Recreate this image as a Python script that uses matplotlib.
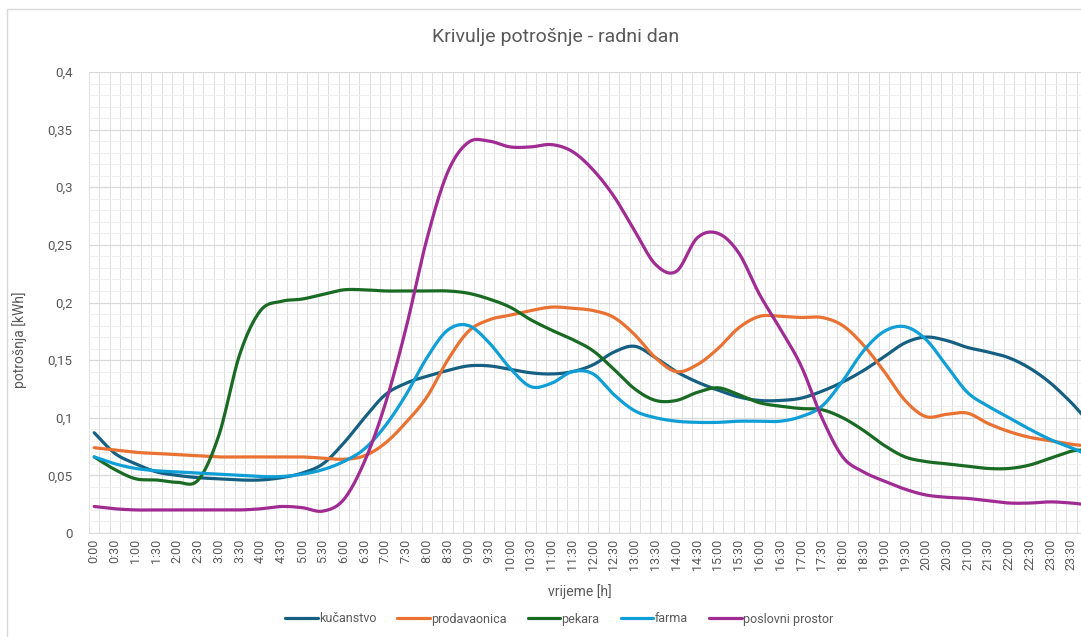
import matplotlib.pyplot as plt
import numpy as np
from matplotlib.patches import Rectangle
from matplotlib.ticker import FixedLocator, MultipleLocator, FuncFormatter

plt.rcParams["font.family"] = ["Roboto", "DejaVu Sans"]

# sample times (half-hourly readings plus the last quarter hour)
TIMES = [
    "0:00", "0:30", "1:00", "1:30", "2:00", "2:30", "3:00", "3:30",
    "4:00", "4:30", "5:00", "5:30", "6:00", "6:30", "7:00", "7:30",
    "8:00", "8:30", "9:00", "9:30", "10:00", "10:30", "11:00", "11:30",
    "12:00", "12:30", "13:00", "13:30", "14:00", "14:30", "15:00", "15:30",
    "16:00", "16:30", "17:00", "17:30", "18:00", "18:30", "19:00", "19:30",
    "20:00", "20:30", "21:00", "21:30", "22:00", "22:30", "23:00", "23:30",
    "23:45",
]
TICK_LABELS = TIMES[:-1]

kucanstvo = [
    0.087, 0.069, 0.060, 0.053, 0.050, 0.048, 0.047, 0.046,
    0.046, 0.048, 0.052, 0.060, 0.078, 0.100, 0.120, 0.130,
    0.136, 0.141, 0.145, 0.145, 0.142, 0.139, 0.138, 0.140,
    0.146, 0.157, 0.162, 0.152, 0.140, 0.131, 0.124, 0.118,
    0.115, 0.115, 0.117, 0.123, 0.131, 0.141, 0.153, 0.165,
    0.170, 0.167, 0.161, 0.157, 0.152, 0.143, 0.130, 0.113,
    0.103,
]
prodavaonica = [
    0.074, 0.072, 0.070, 0.069, 0.068, 0.067, 0.066, 0.066,
    0.066, 0.066, 0.066, 0.065, 0.064, 0.067, 0.078, 0.096,
    0.118, 0.150, 0.175, 0.185, 0.189, 0.193, 0.196, 0.195,
    0.193, 0.187, 0.172, 0.152, 0.140, 0.146, 0.160, 0.178,
    0.188, 0.188, 0.187, 0.187, 0.180, 0.163, 0.140, 0.115,
    0.101, 0.103, 0.104, 0.095, 0.088, 0.083, 0.080, 0.077,
    0.076,
]
pekara = [
    0.066, 0.055, 0.047, 0.046, 0.044, 0.046, 0.085, 0.155,
    0.193, 0.201, 0.203, 0.207, 0.211, 0.211, 0.210, 0.210,
    0.210, 0.210, 0.208, 0.203, 0.196, 0.185, 0.176, 0.168,
    0.158, 0.142, 0.125, 0.115, 0.115, 0.122, 0.126, 0.120,
    0.113, 0.110, 0.108, 0.107, 0.100, 0.089, 0.076, 0.066,
    0.062, 0.060, 0.058, 0.056, 0.056, 0.059, 0.065, 0.071,
    0.072,
]
farma = [
    0.066, 0.060, 0.056, 0.054, 0.053, 0.052, 0.051, 0.050,
    0.049, 0.049, 0.051, 0.055, 0.062, 0.073, 0.093, 0.120,
    0.152, 0.176, 0.180, 0.165, 0.143, 0.127, 0.130, 0.140,
    0.138, 0.120, 0.106, 0.100, 0.097, 0.096, 0.096, 0.097,
    0.097, 0.097, 0.101, 0.110, 0.132, 0.158, 0.175, 0.179,
    0.168, 0.145, 0.122, 0.110, 0.100, 0.090, 0.081, 0.074,
    0.070,
]
poslovni_prostor = [
    0.023, 0.021, 0.020, 0.020, 0.020, 0.020, 0.020, 0.020,
    0.021, 0.023, 0.022, 0.019, 0.029, 0.062, 0.112, 0.178,
    0.255, 0.313, 0.339, 0.340, 0.335, 0.335, 0.337, 0.331,
    0.315, 0.292, 0.262, 0.233, 0.227, 0.256, 0.260, 0.243,
    0.207, 0.177, 0.145, 0.100, 0.066, 0.053, 0.045, 0.038,
    0.033, 0.031, 0.030, 0.028, 0.026, 0.026, 0.027, 0.026,
    0.025,
]

SERIES = [
    ("kučanstvo", kucanstvo, "#156082"),
    ("prodavaonica", prodavaonica, "#E97132"),
    ("pekara", pekara, "#196B24"),
    ("farma", farma, "#0F9ED5"),
    ("poslovni prostor", poslovni_prostor, "#A02B93"),
]


def slot(t):
    # 15-minute category index of a "h:mm" string
    h, m = t.split(":")
    return (int(h) * 60 + int(m)) / 15


def smooth(x, y, n=12):
    # Catmull-Rom curve through the points, like Excel's smoothed line
    x = np.asarray(x, float)
    y = np.asarray(y, float)
    px = np.concatenate([[2 * x[0] - x[1]], x, [2 * x[-1] - x[-2]]])
    py = np.concatenate([[2 * y[0] - y[1]], y, [2 * y[-1] - y[-2]]])
    t = np.linspace(0, 1, n, endpoint=False)
    xs, ys = [], []
    for i in range(1, len(px) - 2):
        for p, out in ((px, xs), (py, ys)):
            p0, p1, p2, p3 = p[i - 1], p[i], p[i + 1], p[i + 2]
            out.extend(0.5 * (2 * p1 + (-p0 + p2) * t
                              + (2 * p0 - 5 * p1 + 4 * p2 - p3) * t ** 2
                              + (-p0 + 3 * p1 - 3 * p2 + p3) * t ** 3))
    xs.append(x[-1])
    ys.append(y[-1])
    return np.array(xs), np.array(ys)


W, H = 1081, 637
fig = plt.figure(figsize=(W / 100, H / 100), dpi=100)
fig.patches.append(Rectangle((7 / W, -0.1), 1.2, 1 - 9 / H + 0.1, transform=fig.transFigure,
                             fill=False, edgecolor="#d9d9d9", linewidth=1.0))

ax = fig.add_axes([89 / W, 1 - 533 / H, 998 / W, 461 / H])
x = [slot(t) for t in TIMES]
for name, vals, color in SERIES:
    sx, sy = smooth(x, vals)
    ax.plot(sx, sy, color=color, linewidth=2.3, label=name, solid_capstyle="round")

ax.set_xlim(-0.5, 95.5)
ax.set_ylim(0, 0.4)

ax.xaxis.set_major_locator(FixedLocator([slot(t) for t in TICK_LABELS]))
ax.set_xticklabels(TICK_LABELS, rotation=90, fontsize=9, color="#595959")
ax.xaxis.set_minor_locator(FixedLocator(np.arange(-0.5, 96, 1)))
ax.yaxis.set_major_locator(MultipleLocator(0.05))
ax.yaxis.set_minor_locator(MultipleLocator(0.01))
ax.yaxis.set_major_formatter(FuncFormatter(lambda v, _: f"{v:.2f}".rstrip("0").rstrip(".").replace(".", ",")))
ax.tick_params(axis="y", labelsize=9.5, labelcolor="#595959", length=0, pad=12)
ax.tick_params(axis="x", length=0, pad=4)
ax.tick_params(which="minor", length=0)

ax.grid(which="major", axis="y", color="#d9d9d9", linewidth=0.9)
ax.grid(which="minor", axis="y", color="#efefef", linewidth=0.7)
ax.grid(which="minor", axis="x", color="#dedede", linewidth=0.7)
ax.set_axisbelow(True)
for side in ("top", "right", "left"):
    ax.spines[side].set_visible(False)
ax.spines["bottom"].set_color("#d9d9d9")

fig.text(556 / W, 1 - 37 / H, "Krivulje potrošnje - radni dan", ha="center", va="center",
         fontsize=14, color="#595959")
fig.text(20 / W, 1 - 340 / H, "potrošnja [kWh]", rotation=90, ha="center", va="center",
         fontsize=10, color="#595959")
fig.text(580 / W, 1 - 592 / H, "vrijeme [h]", ha="center", va="center",
         fontsize=10, color="#595959")
fig.legend(loc="center", bbox_to_anchor=(559 / W, 1 - 619 / H), ncol=5, frameon=False,
           fontsize=9, handlelength=2.6, handletextpad=0.1, columnspacing=1.7,
           labelcolor="#595959")

fig.savefig("out.png", dpi=100)
